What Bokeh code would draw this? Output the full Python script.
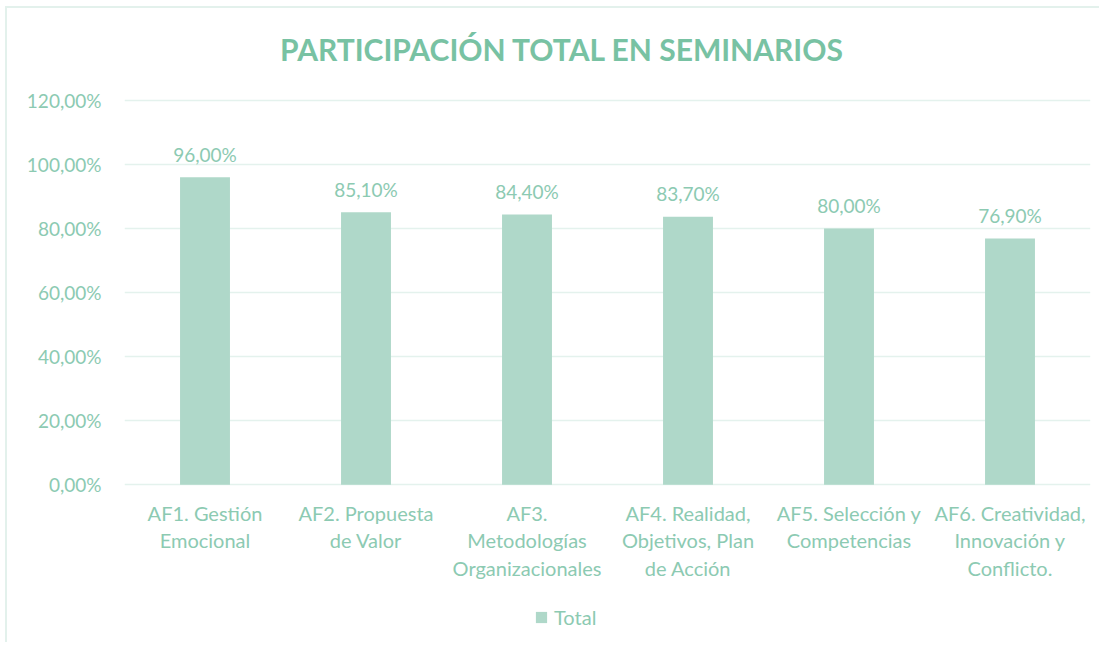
from bokeh.plotting import figure
from bokeh.models import Range1d, FixedTicker, ColumnDataSource, Legend, LegendItem
from bokeh.core.properties import value
from bokeh.embed import file_html
from bokeh.resources import INLINE

# ---- data ----
categories = [
    "AF1. Gestión\nEmocional",
    "AF2. Propuesta\nde Valor",
    "AF3.\nMetodologías\nOrganizacionales",
    "AF4. Realidad,\nObjetivos, Plan\nde Acción",
    "AF5. Selección y\nCompetencias",
    "AF6. Creatividad,\nInnovación y\nConflicto.",
]
values = [96.0, 85.1, 84.4, 83.7, 80.0, 76.9]
y_ticks = [0, 20, 40, 60, 80, 100, 120]
y_tick_labels = ["0,00%", "20,00%", "40,00%", "60,00%", "80,00%", "100,00%", "120,00%"]
title_text = "PARTICIPACIÓN TOTAL EN SEMINARIOS"
series_name = "Total"

# ---- style ----
FONT = "Lato"
BAR = "#afd8c9"
TXT = "#8ccab2"
TTL = "#78c2a3"
GRID = "#e4f2ed"

xs = [i + 0.5 for i in range(len(categories))]
val_labels = [f"{v:.2f}".replace(".", ",") + "%" for v in values]
src = ColumnDataSource(dict(x=xs, top=values, lab=val_labels, cat=categories,
                            zero=[0] * len(values)))

p = figure(width=1094, height=636, output_backend="svg", toolbar_location=None,
           x_range=Range1d(0, 6), y_range=Range1d(-49.87, 148.73),
           min_border_left=117, min_border_right=11, min_border_top=0, min_border_bottom=0)
p.margin = (6, 0, 0, 5)
p.styles = {"border-top": "2px solid #e3f1ec", "border-left": "2px solid #e3f1ec"}
p.outline_line_color = None
p.background_fill_color = "white"
p.border_fill_color = "white"

p.xaxis.visible = False
p.xgrid.visible = False

p.yaxis.ticker = FixedTicker(ticks=y_ticks)
p.yaxis.major_label_overrides = {t: l for t, l in zip(y_ticks, y_tick_labels)}
p.yaxis.axis_line_color = None
p.yaxis.major_tick_line_color = None
p.yaxis.minor_tick_line_color = None
p.yaxis.major_tick_out = 0
p.yaxis.major_label_standoff = 23
p.yaxis.major_label_text_font = FONT
p.yaxis.major_label_text_font_size = "19px"
p.yaxis.major_label_text_color = TXT
p.ygrid.grid_line_color = GRID
p.ygrid.grid_line_width = 1.5
p.ygrid.ticker = FixedTicker(ticks=y_ticks)

bars = p.vbar(x="x", top="top", bottom=0, width=0.31, source=src,
              fill_color=BAR, line_color=None)

p.text(x="x", y="top", text="lab", source=src, text_align="center",
       text_baseline="alphabetic", y_offset=-23, text_font=value(FONT),
       text_font_size="19px", text_color=TXT)

p.text(x="x", y="zero", text="cat", source=src, text_align="center",
       text_baseline="top", y_offset=16, text_font=value(FONT),
       text_font_size="20px", text_color=TXT, text_line_height=1.15)

p.text(x=[2.72], y=[136.2], text=[title_text], text_align="center",
       text_baseline="middle", text_font=value(FONT), text_font_size="30px",
       text_font_style="bold", text_color=TTL)

legend = Legend(items=[LegendItem(label=series_name, renderers=[bars])],
                location=(410, 15), orientation="horizontal",
                glyph_width=14, glyph_height=14, label_standoff=6,
                padding=0, margin=0, spacing=0,
                label_text_font=FONT, label_text_font_size="20px",
                label_text_color=TXT, label_height=20,
                border_line_color=None, background_fill_alpha=0)
p.add_layout(legend, "center")

open("out.html", "w").write(file_html(p, INLINE))
